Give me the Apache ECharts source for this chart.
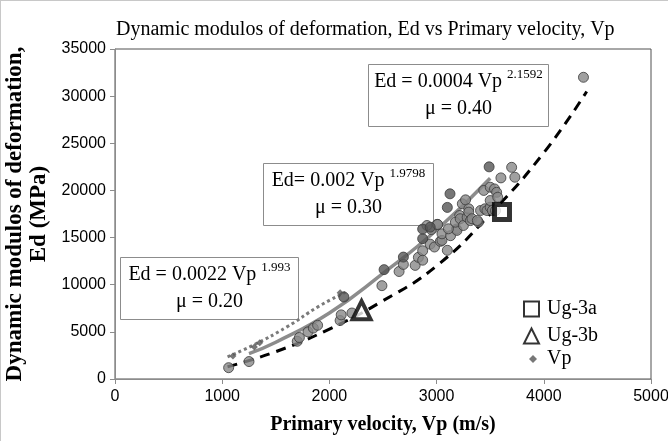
<!DOCTYPE html>
<html>
<head>
<meta charset="utf-8">
<script src="https://cdn.jsdelivr.net/npm/echarts@6/dist/echarts.min.js"></script>
<style>
  html, body { margin: 0; padding: 0; background: #fff; }
  #chart { width: 667px; height: 440px; border-top: 1px solid #c8c8c8; border-left: 1px solid #c8c8c8; }
</style>
</head>
<body>
<div id="chart"></div>
<script>
const lightPoints = [
    [1060, 1200], [1250, 1850], [1700, 4000], [1720, 4400], [1800, 5000], [1850, 5400],
    [1890, 5700], [2100, 6200], [2110, 6800], [2210, 7000], [2490, 9900], [2650, 11400],
    [2690, 12150], [2800, 12050], [2830, 12900], [2870, 13600], [2870, 12600], [2940, 14300],
    [2950, 15850], [2980, 14000], [3005, 16400], [3035, 14600], [3050, 14700], [3050, 15400],
    [3100, 13650], [3130, 15200], [3185, 15900], [3190, 15760], [3215, 17340], [3175, 16630],
    [3110, 15930], [3220, 17000], [3250, 16280], [3240, 18580], [3270, 19000], [3285, 17150],
    [3300, 18050], [3300, 17700], [3315, 16800], [3330, 17000], [3390, 16630], [2910, 16280],
    [3010, 16390], [3380, 16810], [3410, 17870], [3440, 20000], [3450, 18050], [3470, 17870],
    [3500, 18220], [3500, 18930], [3500, 20340], [3520, 17870], [3540, 20160], [3550, 17870],
    [3560, 19800], [3570, 19280], [3600, 21330], [3700, 22450], [3730, 21400], [4370, 32000]
];
const darkPoints = [
    [2135, 8700], [2510, 11600], [2690, 12930], [2870, 14880], [2870, 15900], [2940, 16100],
    [3100, 18200], [3125, 19640], [3490, 22500]
];
const vpPoints = [[1100, 2450], [1300, 3400], [1350, 3850], [2100, 9150]];
const ug3a = [[3610, 17700]];
const ug3b = [[2300, 7300]];

// Trend curves, points
const curve040 = [[1050, 1300], [1500, 2900], [2000, 5300], [2500, 8300], [3000, 12000], [3500, 17500], [4000, 24000], [4400, 30500]];
const curve030 = [[1250, 2700], [1500, 3900], [2000, 7000], [2500, 11200], [3000, 15800], [3500, 21300]];
const curve020 = [[1050, 2350], [1300, 3650], [1600, 5500], [1900, 7700], [2150, 9200]];

const eqBoxes = [
    { left: 367, top: 63, width: 180, main: 'Ed = 0.0004 Vp ', exp: '2.1592', mu: 'μ = 0.40' },
    { left: 262, top: 162, width: 170, main: 'Ed= 0.002 Vp ', exp: '1.9798', mu: 'μ = 0.30' },
    { left: 119, top: 256, width: 178, main: 'Ed = 0.0022 Vp ', exp: '1.993', mu: 'μ = 0.20' }
];

const serif = 'Liberation Serif';
const chart = echarts.init(document.getElementById('chart'));

const circleStyle = (fill) => ({ color: fill, borderColor: '#3a3a3a', borderWidth: 1 });

chart.setOption({
    animation: false,
    title: {
        text: 'Dynamic modulos of deformation, Ed vs Primary velocity, Vp',
        left: 110,
        top: 14,
        textStyle: { fontFamily: serif, fontSize: 20, fontWeight: 'normal', color: '#000' }
    },
    grid: {
        left: 114, right: 17, top: 48, bottom: 62,
        outerBoundsMode: 'none',
        show: true, borderColor: '#505050', borderWidth: 1
    },
    legend: [{
        orient: 'vertical',
        left: 517, top: 293,
        itemWidth: 15, itemHeight: 15, itemGap: 7,
        data: ['Ug-3a', 'Ug-3b'],
        textStyle: { fontFamily: serif, fontSize: 20, color: '#000', padding: [0, 0, 0, 3] }
    }, {
        orient: 'vertical',
        left: 523, top: 343,
        itemWidth: 8, itemHeight: 8,
        data: ['Vp'],
        textStyle: { fontFamily: serif, fontSize: 20, color: '#000', padding: [0, 0, 0, 5] }
    }],
    xAxis: {
        type: 'value', min: 0, max: 5000, interval: 1000,
        name: 'Primary velocity, Vp (m/s)', nameLocation: 'middle', nameGap: 36,
        nameTextStyle: { fontFamily: serif, fontSize: 20, fontWeight: 'bold', color: '#000' },
        axisLine: { lineStyle: { color: '#8c8c8c' } },
        axisTick: { show: true, length: 5, lineStyle: { color: '#8c8c8c' } },
        axisLabel: { fontFamily: 'Liberation Sans', fontSize: 16, color: '#000', margin: 10, formatter: v => String(v) },
        splitLine: { show: false }
    },
    yAxis: {
        type: 'value', min: 0, max: 35000, interval: 5000,
        name: 'Dynamic modulos of deformation,\nEd (MPa)', nameLocation: 'middle', nameGap: 51,
        nameTextStyle: { fontFamily: serif, fontSize: 23, fontWeight: 'bold', color: '#000', lineHeight: 24 },
        axisLine: { show: true, lineStyle: { color: '#8c8c8c' } },
        axisTick: { show: true, length: 5, lineStyle: { color: '#8c8c8c' } },
        axisLabel: { fontFamily: 'Liberation Sans', fontSize: 16, color: '#000', margin: 9, formatter: v => String(v) },
        splitLine: { show: false }
    },
    series: [
        {
            name: 'fit040', type: 'line', smooth: true, showSymbol: false, data: curve040,
            lineStyle: { color: '#000', width: 3, type: [10, 7] }, z: 3
        },
        {
            name: 'fit030', type: 'line', smooth: true, showSymbol: false, data: curve030,
            lineStyle: { color: '#8c8c8c', width: 3.5 }, z: 3
        },
        {
            name: 'fit020', type: 'line', smooth: true, showSymbol: false, data: curve020,
            lineStyle: { color: '#7a7a7a', width: 3, type: [3, 3] }, z: 3
        },
        {
            name: 'light', type: 'scatter', symbolSize: 10, data: lightPoints,
            itemStyle: circleStyle('#888888'), z: 4
        },
        {
            name: 'dark', type: 'scatter', symbolSize: 10, data: darkPoints,
            itemStyle: circleStyle('#555555'), z: 4
        },
        {
            name: 'Vp', type: 'scatter', symbol: 'diamond', symbolSize: 7, data: vpPoints,
            itemStyle: { color: '#555555' }, z: 5
        },
        {
            name: 'Ug-3a', type: 'scatter', symbol: 'rect', symbolSize: 15, data: ug3a,
            itemStyle: { color: '#fff', borderColor: '#000', borderWidth: 5 }, z: 6
        },
        {
            name: 'Ug-3b', type: 'scatter', symbol: 'triangle', symbolSize: 18, data: ug3b,
            itemStyle: { color: '#fff', borderColor: '#000', borderWidth: 4 }, z: 6
        }
    ],
    graphic: eqBoxes.map(b => ({
        type: 'group', left: b.left, top: b.top, z: 10,
        children: [
            {
                type: 'rect', shape: { x: 0, y: 0, width: b.width, height: 62 },
                style: { fill: '#fff', stroke: '#8c8c8c', lineWidth: 1 }
            },
            {
                type: 'text', x: b.width / 2, y: 31,
                style: {
                    text: '{m|' + b.main + '}{s|' + b.exp + '}\n{m|' + b.mu + '}',
                    align: 'center', verticalAlign: 'middle',
                    rich: {
                        m: { fontFamily: serif, fontSize: 20, color: '#000', lineHeight: 27 },
                        s: { fontFamily: serif, fontSize: 13, color: '#000', lineHeight: 27, verticalAlign: 'top', padding: [0, 0, 10, 0] }
                    }
                }
            }
        ]
    }))
});
</script>
</body>
</html>
